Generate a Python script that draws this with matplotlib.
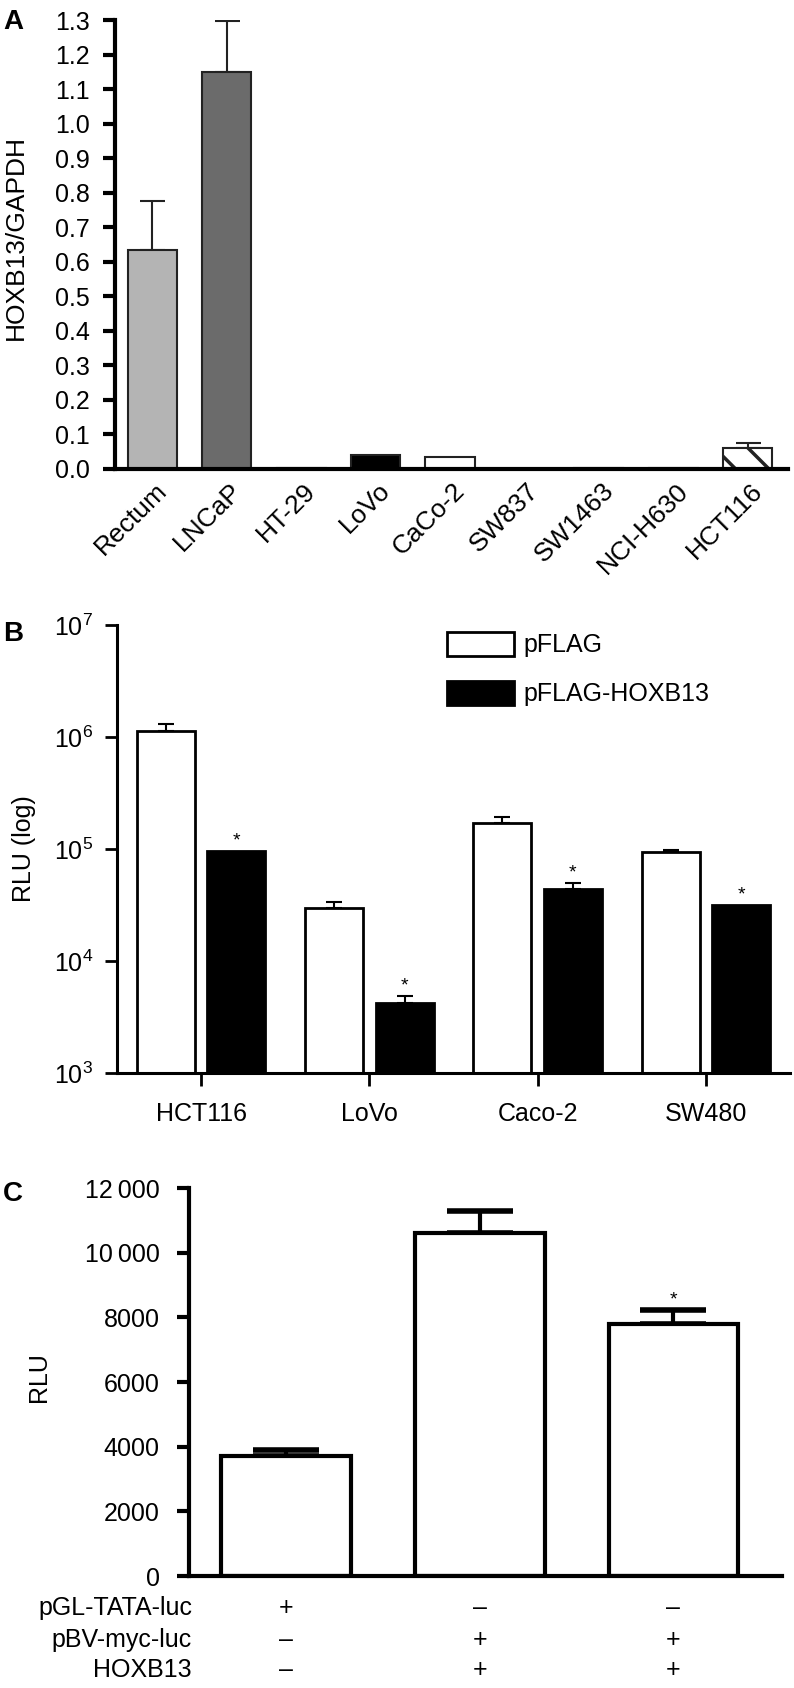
import matplotlib
matplotlib.use("Agg")
import matplotlib.pyplot as plt
from matplotlib.transforms import ScaledTranslation
import numpy as np

plt.rcParams['font.family'] = ['Liberation Sans', 'DejaVu Sans']
plt.rcParams['hatch.linewidth'] = 2.5
plt.rcParams['mathtext.default'] = 'regular'

# Panel A: HOXB13 expression
a_lines = ['Rectum', 'LNCaP', 'HT-29', 'LoVo', 'CaCo-2', 'SW837', 'SW1463', 'NCI-H630', 'HCT116']
a_vals = [0.635, 1.15, 0.004, 0.04, 0.035, 0.001, 0.004, 0.003, 0.062]
a_err = [0.14, 0.148, 0.0, 0.0, 0.0, 0.0, 0.0, 0.0, 0.013]
a_colors = ['#b4b4b4', '#6b6b6b', '#777777', '#000000', '#ffffff',
            '#555555', '#888888', '#aaaaaa', '#ffffff']
a_yticks = [0.0, 0.1, 0.2, 0.3, 0.4, 0.5, 0.6, 0.7, 0.8, 0.9, 1.0, 1.1, 1.2, 1.3]

# Panel B: reporter activity (log)
b_lines = ['HCT116', 'LoVo', 'Caco-2', 'SW480']
b_series = ['pFLAG', 'pFLAG-HOXB13']
b_pflag = [1.13e6, 2.97e4, 1.71e5, 9.4e4]
b_pflag_err = [1.8e5, 4.0e3, 2.2e4, 4.0e3]
b_hoxb13 = [9.6e4, 4.2e3, 4.4e4, 3.15e4]
b_hoxb13_err = [0.0, 7.0e2, 6.0e3, 0.0]

# Panel C: myc reporter
c_vals = [3720, 10620, 7780]
c_err = [180, 680, 440]
c_star = [False, False, True]
c_rows = ['pGL-TATA-luc', 'pBV-myc-luc', 'HOXB13']
c_signs = [['+', '\u2013', '\u2013'],
           ['\u2013', '+', '+'],
           ['\u2013', '+', '+']]
c_yticks = [0, 2000, 4000, 6000, 8000, 10000, 12000]
c_yticklabels = ['0', '2000', '4000', '6000', '8000', '10\u2009000', '12\u2009000']

W, H = 794, 1688
fig = plt.figure(figsize=(W / 100, H / 100), dpi=100)


def box(l, t, r, b):
    return [l / W, 1 - b / H, (r - l) / W, (b - t) / H]


def clean(ax, lw):
    ax.spines['top'].set_visible(False)
    ax.spines['right'].set_visible(False)
    ax.spines['left'].set_linewidth(lw)
    ax.spines['bottom'].set_linewidth(lw)


# ---- A ----
axA = fig.add_axes(box(115, 20, 788, 469))
xa = np.arange(len(a_lines))
bars = axA.bar(xa, a_vals, width=0.66, color=a_colors, edgecolor='#222222', linewidth=1.5, zorder=2)
bars[-1].set_hatch('\\')
ea = np.array(a_err)
m = ea > 0
axA.errorbar(xa[m], np.array(a_vals)[m], yerr=[np.zeros(m.sum()), ea[m]], fmt='none',
             ecolor='#222222', elinewidth=1.5, capsize=9, capthick=1.5, zorder=1)
axA.set_xlim(-0.5, 8.54)
axA.set_ylim(0, 1.3)
axA.set_yticks(a_yticks)
axA.set_yticklabels([f'{v:.1f}' for v in a_yticks])
axA.set_xticks(xa)
axA.set_xticklabels(a_lines, rotation=45, ha='right', va='center', rotation_mode='anchor')
axA.tick_params(axis='y', length=9, width=3, pad=9, labelsize=18)
axA.tick_params(axis='x', length=0, pad=13, labelsize=19)
shift = ScaledTranslation(0.11, 0, fig.dpi_scale_trans)
for lab in axA.get_xticklabels():
    lab.set_transform(lab.get_transform() + shift)
clean(axA, 3)

# ---- B ----
axB = fig.add_axes(box(117, 625, 790, 1073))
xb = np.arange(len(b_lines))
off, bw = 0.21, 0.345
axB.bar(xb - off, b_pflag, width=bw, color='white', edgecolor='black', linewidth=2,
        label=b_series[0], zorder=2)
axB.bar(xb + off, b_hoxb13, width=bw, color='black', edgecolor='black', linewidth=2,
        label=b_series[1], zorder=2)
axB.errorbar(xb - off, b_pflag, yerr=[np.zeros(4), b_pflag_err], fmt='none', ecolor='black',
             elinewidth=1.5, capsize=6, capthick=1.5, zorder=1)
eb = np.array(b_hoxb13_err)
m = eb > 0
axB.errorbar((xb + off)[m], np.array(b_hoxb13)[m], yerr=[np.zeros(m.sum()), eb[m]], fmt='none',
             ecolor='black', elinewidth=1.5, capsize=6, capthick=1.5, zorder=1)
for x, v, e in zip(xb + off, b_hoxb13, b_hoxb13_err):
    axB.annotate('*', (x, v + e), xytext=(0, 1), textcoords='offset points',
                 ha='center', va='bottom', fontsize=14)
axB.set_yscale('log')
axB.set_ylim(1e3, 1e7)
axB.yaxis.set_minor_locator(matplotlib.ticker.NullLocator())
axB.set_xlim(-0.5, 3.5)
axB.set_xticks(xb)
axB.set_xticklabels(b_lines)
axB.tick_params(axis='y', length=9, width=2, pad=8, labelsize=18)
axB.tick_params(axis='x', length=9, width=2, pad=12, labelsize=18)
clean(axB, 2.2)
axB.legend(loc='upper left', bbox_to_anchor=(0.49, 0.985), frameon=False, fontsize=18,
           handlelength=2.7, handleheight=1.1, labelspacing=0.95, handletextpad=0.35,
           borderpad=0, borderaxespad=0)

# ---- C ----
axC = fig.add_axes(box(189, 1188, 782, 1576))
xc = np.arange(len(c_vals))
axC.bar(xc, c_vals, width=0.67, color='white', edgecolor='black', linewidth=3, zorder=2)
axC.errorbar(xc, c_vals, yerr=[np.zeros(3), c_err], fmt='none', ecolor='black',
             elinewidth=3, capsize=24, capthick=4, zorder=1)
for x, v, e, s in zip(xc, c_vals, c_err, c_star):
    if s:
        axC.annotate('*', (x, v + e), xytext=(0, 1), textcoords='offset points',
                     ha='center', va='bottom', fontsize=14)
axC.set_xlim(-0.5, 2.56)
axC.set_ylim(0, 12000)
axC.set_yticks(c_yticks)
axC.set_yticklabels(c_yticklabels)
axC.set_xticks([])
axC.tick_params(axis='y', length=9, width=3, pad=12, labelsize=18)
clean(axC, 3)
row_y = [-0.0825, -0.165, -0.242]
for ry, name, signs in zip(row_y, c_rows, c_signs):
    axC.text(0.005, ry, name, transform=axC.transAxes, ha='right', va='center', fontsize=18)
    for x, s in zip(xc, signs):
        axC.text(x, ry, s, transform=axC.get_xaxis_transform(), ha='center', va='center',
                 fontsize=18)

# labels
fig.text(16 / W, 1 - 237 / H, 'HOXB13/GAPDH', rotation=90, ha='center', va='center', fontsize=19)
fig.text(24 / W, 1 - 849 / H, 'RLU (log)', rotation=90, ha='center', va='center', fontsize=18)
fig.text(39 / W, 1 - 1377 / H, 'RLU', rotation=90, ha='center', va='center', fontsize=18)
for lab, y in [('A', 22), ('B', 634), ('C', 1194)]:
    fig.text(13 / W, 1 - y / H, lab, ha='center', va='center', fontsize=20, fontweight='bold')

fig.savefig('out.png', dpi=100)
